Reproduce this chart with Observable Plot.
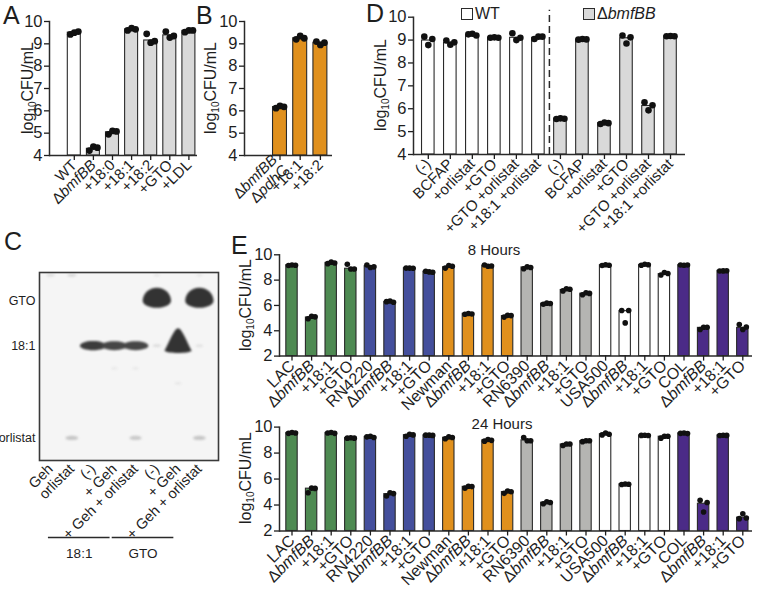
<!DOCTYPE html>
<html><head><meta charset="utf-8">
<script src="https://cdn.jsdelivr.net/npm/d3@7"></script>
<script src="https://cdn.jsdelivr.net/npm/@observablehq/plot@0.6"></script>
<style>
body{margin:0;background:#fff;}
#fig{position:relative;width:762px;height:590px;overflow:hidden;font-family:"Liberation Sans",Arial,Helvetica,sans-serif;color:#1e1e1e;background:#fff;}
#fig svg{position:absolute;left:0;top:0;max-width:none;}
.lab{position:absolute;white-space:nowrap;line-height:1;}
.letter{font-size:25px;}
.ylab{font-size:16px;transform:translate(-50%,-50%) rotate(-90deg);}
.ylab sub{font-size:10px;vertical-align:-3px;}
.ttl{font-size:15px;transform:translate(-50%,-50%);}
.box{position:absolute;width:10px;height:10px;border:1.3px solid #2b2b2b;}
</style></head><body><div id="fig"></div>
<script>
// ---------- Panel A ----------
const aCats  = ["WT","ΔbmfBB","+18:0","+18:1","+18:2","+GTO","+LDL"];
const aGroup = ["WT","ΔbmfBB","ΔbmfBB","ΔbmfBB","ΔbmfBB","ΔbmfBB","ΔbmfBB"];
const aMean  = [9.50, 4.30, 5.04, 9.65, 9.15, 9.38, 9.58];
const aRep1  = [9.42, 4.22, 4.95, 9.60, 9.45, 9.55, 9.52];
const aRep2  = [9.50, 4.40, 5.10, 9.70, 9.05, 9.28, 9.60];
const aRep3  = [9.55, 4.35, 5.08, 9.65, 9.12, 9.35, 9.60];

// ---------- Panel B ----------
const bCats  = ["ΔbmfBB\nΔpdhC","+18:1","+18:2"];
const bMean  = [6.17, 9.25, 9.05];
const bRep1  = [6.12, 9.20, 9.10];
const bRep2  = [6.22, 9.35, 8.95];
const bRep3  = [6.18, 9.25, 9.05];

// ---------- Panel D ----------
const dConds   = ["(-)","BCFAP","+orlistat","+GTO","+GTO +orlistat","+18:1 +orlistat"];
const dStrains = ["WT","ΔbmfBB"];
const dWTMean  = [8.98, 8.87, 9.20, 9.10, 9.10, 9.10];
const dWTRep1  = [9.15, 8.98, 9.25, 9.10, 9.30, 9.05];
const dWTRep2  = [8.78, 8.80, 9.28, 9.12, 9.00, 9.15];
const dWTRep3  = [9.05, 8.90, 9.20, 9.10, 9.10, 9.15];
const dMuMean  = [5.56, 9.02, 5.37, 9.08, 6.12, 9.17];
const dMuRep1  = [5.55, 9.02, 5.33, 9.20, 6.28, 9.17];
const dMuRep2  = [5.58, 9.05, 5.40, 8.85, 5.93, 9.18];
const dMuRep3  = [5.56, 9.03, 5.37, 9.12, 6.15, 9.17];

// ---------- Panel C (TLC) ----------
const tlcLanes  = ["Geh","orlistat","(-)","+ Geh","+ Geh + orlistat","(-)","+ Geh","+ Geh + orlistat"];
const tlcBands  = ["GTO","18:1","orlistat"];
const tlcBandRf = [0.85, 0.61, 0.12];
const spotLane   = [5, 7, 2, 3, 4, 5, 6, 7, 1, 4, 7, 0, 1, 5, 7, 3, 4, 6];
const spotCmpd   = ["GTO","GTO","18:1","18:1","18:1","18:1","18:1","18:1","orlistat","orlistat","orlistat","front","front","front","front","trace","trace","trace"];
const spotRf     = [0.85, 0.85, 0.61, 0.61, 0.61, 0.61, 0.62, 0.61, 0.12, 0.12, 0.12, 0.985, 0.985, 0.985, 0.985, 0.49, 0.49, 0.41];
const spotAmount = [1.10, 1.10, 0.95, 0.90, 0.90, 0.10, 1.03, 0.08, 0.22, 0.20, 0.22, 0.10, 0.12, 0.06, 0.06, 0.05, 0.05, 0.06];
const tlcGroups     = ["18:1","GTO"];
const tlcGroupFirst = [2, 5];
const tlcGroupLast  = [4, 7];

// ---------- Panel E ----------
const eStrains = ["LAC","RN4220","Newman","RN6390","USA500","COL"];
const eConds   = ["ΔbmfBB","+18:1","+GTO"];
const e8Mean = [9.18,5.05,9.36,8.90, 9.10,6.27,8.94,8.67, 9.02,5.34,9.14,5.16, 9.00,6.14,7.22,6.93, 9.18,5.55,9.20,8.47, 9.18,4.23,8.73,4.23];
const e8Rep1 = [9.15,4.95,9.30,9.25, 9.20,6.30,8.95,8.70, 8.95,5.30,9.20,5.08, 8.90,6.10,7.15,6.85, 9.15,5.60,9.18,8.40, 9.20,4.10,8.72,4.50];
const e8Rep2 = [9.20,5.15,9.42,8.88, 9.00,6.35,8.95,8.65, 9.15,5.37,9.10,5.22, 9.05,6.18,7.32,7.00, 9.22,4.62,9.25,8.60, 9.18,4.28,8.73,4.10];
const e8Rep3 = [9.18,5.10,9.35,8.88, 9.05,6.25,8.94,8.62, 9.10,5.33,9.12,5.20, 9.00,6.15,7.28,6.95, 9.17,5.60,9.22,8.52, 9.20,4.28,8.74,4.30];
const e24Mean = [9.55,5.26,9.55,9.16, 9.24,4.84,9.38,9.37, 9.18,5.40,8.98,5.00, 8.98,4.18,8.66,8.92, 9.45,5.60,9.36,9.26, 9.52,4.10,9.36,3.03];
const e24Rep1 = [9.52,4.95,9.55,9.15, 9.25,4.70,9.30,9.38, 9.10,5.30,8.92,4.90, 9.20,4.10,8.58,8.88, 9.40,5.58,9.36,9.15, 9.52,4.37,9.35,2.95];
const e24Rep2 = [9.58,5.30,9.58,9.18, 9.30,4.95,9.45,9.38, 9.25,5.45,9.05,5.08, 8.95,4.25,8.70,8.95, 9.55,5.62,9.37,9.30, 9.55,3.46,9.37,3.33];
const e24Rep3 = [9.55,5.28,9.52,9.15, 9.20,4.88,9.40,9.36, 9.20,5.42,8.98,5.02, 8.95,4.20,8.70,8.95, 9.45,5.60,9.35,9.30, 9.50,4.20,9.36,3.00];
const ePalette = ["#4e8a52","#444f9c","#e0901d","#b5b5b2","#ffffff","#4b2b87"];

// ---------- helpers ----------
const W = 762, H = 590;
const FONT = "Liberation Sans, Arial, Helvetica, sans-serif";
const fig = document.getElementById("fig");
const intFmt = d => String(d);

function italicize(root){
  const walker = document.createTreeWalker(root, NodeFilter.SHOW_TEXT);
  const nodes = []; while (walker.nextNode()) nodes.push(walker.currentNode);
  for (const n of nodes){
    const s = n.nodeValue;
    if (!/(bmfBB|pdhC)/.test(s)) continue;
    const frag = document.createDocumentFragment();
    s.split(/(bmfBB|pdhC)/).forEach(p => {
      if (!p) return;
      if (p === "bmfBB" || p === "pdhC"){
        const t = document.createElementNS("http://www.w3.org/2000/svg","tspan");
        t.setAttribute("font-style","italic"); t.textContent = p; frag.appendChild(t);
      } else frag.appendChild(document.createTextNode(p));
    });
    n.parentNode.replaceChild(frag, n);
  }
}

function barPanel(o){
  const data = o.keys.map((k,i)=>({key:k, mean:o.mean[i], reps:o.reps.map(r=>r[i]), g:o.groups[i]}));
  const labelOf = new Map(o.keys.map((k,i)=>[k,o.labels[i]]));
  const pi = o.pad;
  const marks = [
    Plot.barY(data, {x:"key", y1: () => o.yDomain[0], y2:"mean", fill:"g", stroke:"#2a2a2a", strokeWidth:1.1}),
    ...o.reps.map((r,j)=>Plot.dot(data, {x:"key", y: d=>d.reps[j], r:o.dotR, fill:"#111", dx:o.dotDx[j]})),
    ...(o.extra || []),
    Plot.ruleY([o.yDomain[0]], {stroke:"#2a2a2a", strokeWidth:1.5}),
    Plot.frame({anchor:"left", stroke:"#2a2a2a", strokeWidth:1.5}),
    Plot.axisY({ticks:o.yTicks, tickFormat:intFmt, tickSize:5, tickPadding:2, fontSize:o.tickFont, label:null, strokeWidth:1.3}),
    Plot.axisX({tickRotate:-45, tickSize:5, tickPadding:2, fontSize:o.labelFont, label:null, strokeWidth:1.3, tickFormat:k=>labelOf.get(k), lineHeight:1.0})
  ];
  const svg = Plot.plot({
    width:W, height:H,
    marginLeft:o.left, marginRight:W-o.right, marginTop:o.top, marginBottom:H-o.bottom,
    x:{type:"band", domain:o.keys, range:o.xRange, paddingInner:pi, paddingOuter:pi/2, round:false, align:0.5},
    y:{domain:o.yDomain},
    color:{domain:o.colorDomain, range:o.colorRange},
    style:{background:"transparent", fontFamily:FONT, color:"#1e1e1e", overflow:"visible"},
    marks
  });
  italicize(svg);
  fig.appendChild(svg);
}

function html(cls, txt, x, y, extraStyle=""){
  const d = document.createElement("div");
  d.className = "lab " + cls; d.innerHTML = txt;
  d.style.left = x + "px"; d.style.top = y + "px";
  if (extraStyle) d.style.cssText += extraStyle;
  fig.appendChild(d); return d;
}

// ---------- draw A ----------
{
  const step = 19.1, c0 = 73.8, n = aCats.length;
  barPanel({keys:aCats, labels:aCats, mean:aMean, reps:[aRep1,aRep2,aRep3], groups:aGroup,
    colorDomain:["WT","ΔbmfBB"], colorRange:["#ffffff","#d9d9d9"],
    left:49, right:197, top:21, bottom:155, xRange:[c0-step/2, c0+step*(n-0.5)], pad:0.32,
    yDomain:[4,10], yTicks:[4,5,6,7,8,9,10], tickFont:16.5, labelFont:15, dotR:3.4, dotDx:[-4,0,4]});
}
// ---------- draw B ----------
{
  const step = 20.2, c0 = 279.5, n = bCats.length;
  barPanel({keys:bCats, labels:bCats, mean:bMean, reps:[bRep1,bRep2,bRep3], groups:["x","x","x"],
    colorDomain:["x"], colorRange:["#e0901d"],
    left:244, right:332, top:21, bottom:155, xRange:[c0-step/2, c0+step*(n-0.5)], pad:0.31,
    yDomain:[4,10], yTicks:[4,5,6,7,8,9,10], tickFont:16.5, labelFont:15, dotR:3.4, dotDx:[-4,0,4]});
}
// ---------- draw D ----------
{
  const keys = [], labels = [], groups = [], mean = [], r1 = [], r2 = [], r3 = [];
  const sets = [[dWTMean,dWTRep1,dWTRep2,dWTRep3],[dMuMean,dMuRep1,dMuRep2,dMuRep3]];
  dStrains.forEach((s,si)=>dConds.forEach((c,ci)=>{
    keys.push(s+"|"+c); labels.push(c); groups.push(s);
    mean.push(sets[si][0][ci]); r1.push(sets[si][1][ci]); r2.push(sets[si][2][ci]); r3.push(sets[si][3][ci]);
  }));
  const step = 22.02, c0 = 427.8, n = keys.length;
  barPanel({keys, labels, mean, reps:[r1,r2,r3], groups,
    colorDomain:dStrains, colorRange:["#ffffff","#d9d9d9"],
    left:413, right:685, top:16.7, bottom:154, xRange:[c0-step/2, c0+step*(n-0.5)], pad:0.43,
    yDomain:[4,10], yTicks:[4,5,6,7,8,9,10], tickFont:16.5, labelFont:15, dotR:3.3, dotDx:[-4,0,4],
    extra:[Plot.ruleX([keys[dConds.length]], {x:d=>d, y1:()=>4, y2:()=>10.3, dx:-step/2, stroke:"#2a2a2a", strokeWidth:1.5, strokeDasharray:"7,4"})]});
}
// ---------- draw E ----------
function ePanel(mean, r1, r2, r3, top, bottom){
  const keys = [], labels = [], groups = [];
  eStrains.forEach(s => [s, ...eConds].forEach(c => { keys.push(s+"|"+c); labels.push(c); groups.push(s); }));
  const step = 19.6, c0 = 291.5, n = keys.length;
  barPanel({keys, labels, mean, reps:[r1,r2,r3], groups,
    colorDomain:eStrains, colorRange:ePalette,
    left:279, right:752, top, bottom, xRange:[c0-step/2, c0+step*(n-0.5)], pad:0.42,
    yDomain:[2,10], yTicks:[2,4,6,8,10], tickFont:16.5, labelFont:16, dotR:2.8, dotDx:[-3.5,0,3.5]});
}
ePanel(e8Mean, e8Rep1, e8Rep2, e8Rep3, 254.3, 355.6);
ePanel(e24Mean, e24Rep1, e24Rep2, e24Rep3, 426.6, 530.5);

// ---------- draw C ----------
{
  const K = 0.5523;
  const ell = (ctx, rx, ryT, ryB) => {
    ctx.moveTo(-rx, 0);
    ctx.bezierCurveTo(-rx, -ryT*K, -rx*K, -ryT, 0, -ryT);
    ctx.bezierCurveTo(rx*K, -ryT, rx, -ryT*K, rx, 0);
    ctx.bezierCurveTo(rx, ryB*K, rx*K, ryB, 0, ryB);
    ctx.bezierCurveTo(-rx*K, ryB, -rx, ryB*K, -rx, 0);
    ctx.closePath();
  };
  const flatSym = {draw(ctx, size){ const R = Math.sqrt(size/Math.PI); ell(ctx, R, 0.36*R, 0.34*R); }};
  const domeSym = {draw(ctx, size){ const R = Math.sqrt(size/Math.PI); ell(ctx, R, 0.92*R, 0.5*R); }};
  const peakSym = {draw(ctx, size){ const R = Math.sqrt(size/Math.PI);
    ctx.moveTo(-R, 0.5*R);
    ctx.bezierCurveTo(-0.75*R, 0.1*R, -0.3*R, -1.15*R, 0, -1.15*R);
    ctx.bezierCurveTo(0.3*R, -1.15*R, 0.75*R, 0.1*R, R, 0.5*R);
    ctx.bezierCurveTo(0.7*R, 0.72*R, -0.7*R, 0.72*R, -R, 0.5*R);
    ctx.closePath(); }};
  const spots = spotLane.map((l,i)=>({lane:l, cmpd:spotCmpd[i], rf:spotRf[i], amount:spotAmount[i]}));
  const groups = tlcGroups.map((g,i)=>({label:g, first:tlcGroupFirst[i], last:tlcGroupLast[i]}));
  const svg = Plot.plot({
    width:W, height:H, marginLeft:39, marginRight:W-218, marginTop:272, marginBottom:H-460,
    x:{domain:[-0.52, 7.9]}, y:{domain:[0,1]},
    r:{type:"sqrt", domain:[0,1], range:[0,13.5]},
    color:{type:"linear", domain:[0,1], range:["#f0f0f0","#333333"], clamp:true},
    style:{background:"transparent", fontFamily:FONT, color:"#1e1e1e", overflow:"visible"},
    marks:[
      Plot.frame({fill:"#f5f5f5", stroke:null}),
      Plot.dot(spots.filter(d=>d.cmpd==="GTO"), {x:"lane", y:"rf", r:"amount", fill:"amount", symbol:domeSym, imageFilter:"blur(1.2px)"}),
      Plot.dot(spots.filter(d=>d.cmpd!=="GTO" && d.amount<=1), {x:"lane", y:"rf", r:"amount", fill:"amount", symbol:flatSym, imageFilter:"blur(1px)"}),
      Plot.dot(spots.filter(d=>d.cmpd==="18:1" && d.amount>1), {x:"lane", y:"rf", r:"amount", fill:"amount", symbol:peakSym, imageFilter:"blur(1.2px)"}),
      Plot.frame({stroke:"#3a3a3a", strokeWidth:1.6}),
      Plot.axisY({ticks:tlcBandRf, tickFormat:d=>tlcBands[tlcBandRf.indexOf(d)], tickSize:0, tickPadding:4, fontSize:12.5, label:null}),
      Plot.axisX({ticks:d3.range(tlcLanes.length), tickFormat:i=>tlcLanes[i], tickRotate:-45, tickSize:0, tickPadding:6, fontSize:14.5, label:null}),
      Plot.ruleY(groups, {y:()=>0, x1:d=>d.first-2.1, x2:d=>d.last-1.2, dy:77, stroke:"#2a2a2a", strokeWidth:1.4}),
      Plot.text(groups, {x:d=>(d.first+d.last)/2-1.65, y:()=>0, dy:93, text:"label", fontSize:13.5, fill:"#1e1e1e"})
    ]
  });
  fig.appendChild(svg);
}

// ---------- HTML text: letters, y labels, titles, legend ----------
html("letter","A",3,3);
html("letter","B",196,3);
html("letter","D",366,1);
html("letter","C",4,229);
html("letter","E",231,233);
const yl = "log<sub>10</sub>CFU/mL";
html("ylab", yl, 29, 88);
html("ylab", yl, 212, 88);
html("ylab", yl, 382, 85);
html("ylab", yl, 247, 305);
html("ylab", yl, 247, 478);
html("ttl","8 Hours",494,249);
html("ttl","24 Hours",502,423);
{
  const b1 = document.createElement("div"); b1.className="box"; b1.style.left="461px"; b1.style.top="8px"; b1.style.background="#fff"; fig.appendChild(b1);
  const b2 = document.createElement("div"); b2.className="box"; b2.style.left="583px"; b2.style.top="8px"; b2.style.background="#d9d9d9"; fig.appendChild(b2);
  html("", dStrains[0], 475, 6, "font-size:16px;");
  html("", "Δ<i>bmfBB</i>", 597, 6, "font-size:16px;");
}
</script></body></html>
